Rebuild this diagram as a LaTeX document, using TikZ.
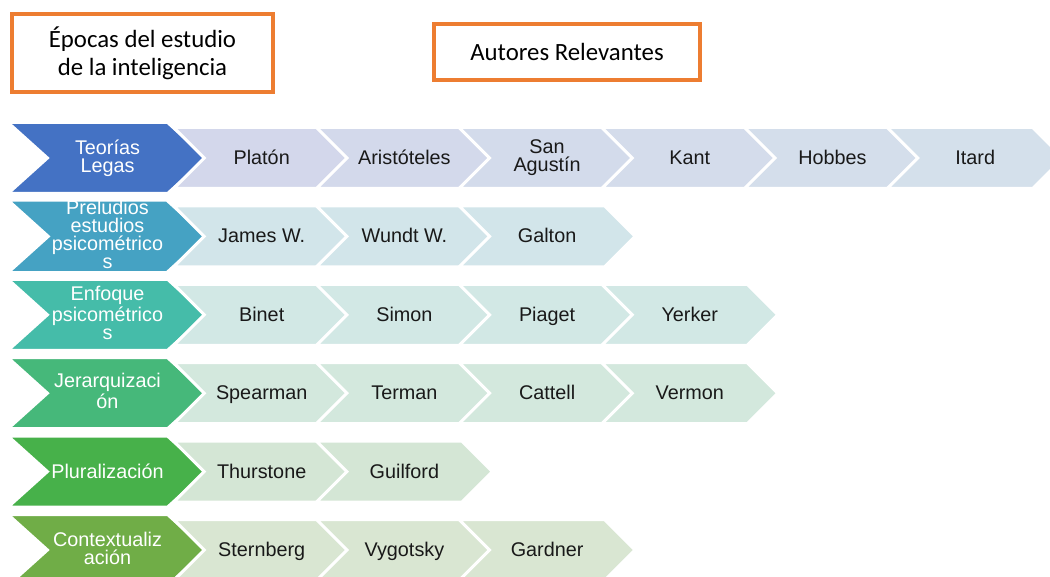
\documentclass[tikz,border=0pt]{standalone}
\usepackage{fontspec}
\setmainfont{Liberation Sans}
\newfontfamily\titlefont{Carlito}
\usetikzlibrary{positioning,shapes.symbols}
\definecolor{naranja}{HTML}{ED7D31}
\definecolor{epocaA}{HTML}{4472C4}
\definecolor{epocaB}{HTML}{45A2C3}
\definecolor{epocaC}{HTML}{45BCA9}
\definecolor{epocaD}{HTML}{46B87A}
\definecolor{epocaE}{HTML}{47B14A}
\definecolor{epocaF}{HTML}{70AD47}
\definecolor{lavanda}{HTML}{D3D7EB}
\definecolor{celeste}{HTML}{D4E0EB}
\definecolor{autorB}{HTML}{D2E5EA}
\definecolor{autorC}{HTML}{D2E8E5}
\definecolor{autorD}{HTML}{D3E8DD}
\definecolor{autorE}{HTML}{D4E6D5}
\definecolor{autorF}{HTML}{D9E6D2}
\def\rowdy{78.4}
\tikzstyle{titulo}=[draw=naranja,line width=2pt,align=center,inner sep=0pt,
  font=\titlefont\fontsize{12.4}{14}\selectfont]
\tikzstyle{chevron}=[signal,signal to=east,signal from=west,draw=white,
  line width=1.5pt,align=center,inner sep=0pt,font=\fontsize{9.9}{9}\selectfont,
  execute at begin node={\vphantom{Áy}},execute at end node={\vphantom{Áy}}]
\tikzstyle{epoca}=[chevron,signal pointer angle=84,text=white,
  minimum width=99.5pt,minimum height=35.5pt]
\tikzstyle{autor}=[chevron,signal pointer angle=90,text=black!90,
  minimum width=88pt,minimum height=30.5pt]
\newcommand{\newEpoch}[4]{\node[epoca,fill=#3](#1) at (107.5,#4){#2};}
\newcommand{\newAuthors}[4]{%
  \foreach \who [count=\k] in {#2}
    \node[autor,fill=#3](#1\k) at ({119+142.7*\k},#4){\who};}

\begin{document}
\begin{tikzpicture}[x=0.5pt,y=-0.5pt]
      \useasboundingbox (0,0) rectangle (1050,577);
      \node[titulo,minimum width=130.5pt,minimum height=39pt](epocas) at (142.5,53)
        {Épocas del estudio\\de la inteligencia};
      \node[titulo,minimum width=133pt,minimum height=28pt](autores) at (567,52)
        {Autores Relevantes};

      % epocas
      \newEpoch{legas}{Teorías\\Legas}{epocaA}{158}
      \newEpoch{preludios}{Preludios\\estudios\\psicométrico\\s}{epocaB}{158+\rowdy}
      \newEpoch{enfoque}{Enfoque\\psicométrico\\s}{epocaC}{158+2*\rowdy}
      \newEpoch{jerarquia}{Jerarquizaci\\ón}{epocaD}{158+3*\rowdy}
      \newEpoch{plural}{Pluralización}{epocaE}{158+4*\rowdy}
      \newEpoch{context}{Contextualiz\\ación}{epocaF}{158+5*\rowdy}

      % autores
      \foreach \who [count=\k, evaluate=\k as \pct using 100-20*(\k-1)] in
        {Platón,Aristóteles,{San\\Agustín},Kant,Hobbes,Itard}
        \node[autor,fill=lavanda!\pct!celeste](legas\k) at ({119+142.7*\k},158){\who};
      \newAuthors{preludios}{James W.,Wundt W.,Galton}{autorB}{158+\rowdy}
      \newAuthors{enfoque}{Binet,Simon,Piaget,Yerker}{autorC}{158+2*\rowdy}
      \newAuthors{jerarquia}{Spearman,Terman,Cattell,Vermon}{autorD}{158+3*\rowdy}
      \newAuthors{plural}{Thurstone,Guilford}{autorE}{158+4*\rowdy}
      \newAuthors{context}{Sternberg,Vygotsky,Gardner}{autorF}{158+5*\rowdy}
\end{tikzpicture}
\end{document}
